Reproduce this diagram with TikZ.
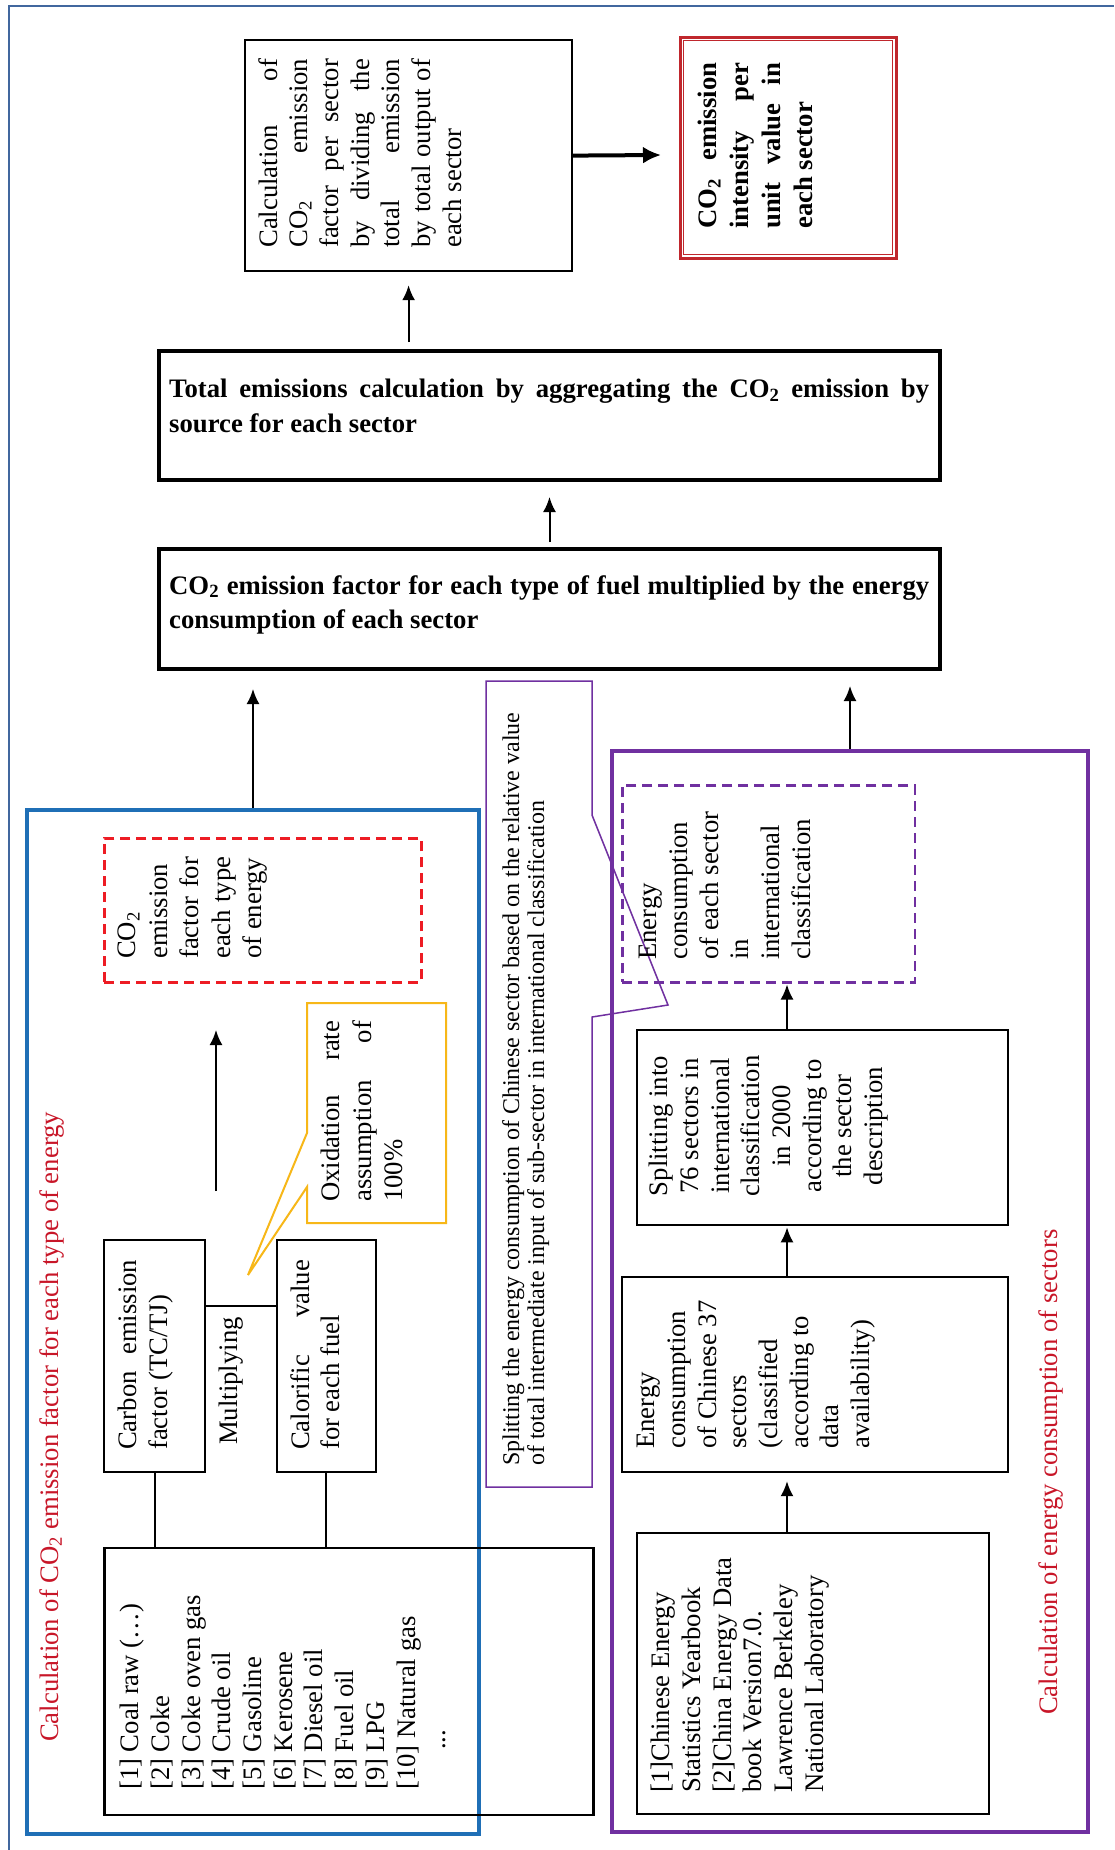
\documentclass[tikz,border=0pt]{standalone}
\usepackage{fontspec}
\setmainfont{Liberation Serif}
\usetikzlibrary{arrows.meta}
\definecolor{frameBlue}{RGB}{65,103,158}
\definecolor{boxBlue}{RGB}{31,111,182}
\definecolor{boxPurple}{RGB}{112,48,160}
\definecolor{titleRed}{RGB}{200,22,40}
\definecolor{dashRed}{RGB}{237,28,36}
\definecolor{darkRed}{RGB}{192,39,45}
\definecolor{calloutGold}{RGB}{247,183,24}
\tikzset{>={Latex[length=15pt,width=13pt]}}
\hyphenpenalty=10000
\exhyphenpenalty=10000
\tolerance=9999
\newcommand{\cotwo}{CO\textsubscript{2}}
\newcommand{\bracketno}[1]{[#1]}
\tikzset{
  txt/.style={font=\fontsize{26.7}{30.7}\selectfont, inner sep=0pt},
  vtxt/.style={txt, rotate=90, anchor=north west},
  bold/.style={font=\fontsize{26.7}{34.5}\selectfont\bfseries},
  box/.style={draw, line width=2.2pt, inner sep=0pt, anchor=north west},
  wh/.style 2 args={minimum width=#1pt, minimum height=#2pt},
  arr/.style={->, line width=2pt},
}

\begin{document}
\begin{tikzpicture}[x=1pt,y=-1pt]
\useasboundingbox (0,0) rectangle (1114,1850);
\fill[white] (0,0) rectangle (1114,1850);
\draw[frameBlue, line width=2.5pt] (9,1850) -- (9,6) -- (1114,6);% page frame

% top row
\node[box, wh={327}{231}] (calc) at (244,39) {};
\node[vtxt, text width=189pt, align=justify] (calct) at (258,248) {Calculation of\linebreak \cotwo{} emission\linebreak factor per sector\linebreak by dividing the\linebreak total emission\linebreak by total output of\linebreak each sector};
\node[box, draw=darkRed, line width=3pt, wh={216}{221}] (intens) at (678.5,35.7) {};
\draw[darkRed, line width=1.5pt] ([xshift=5pt,yshift=-5pt]intens.north west) rectangle ([xshift=-5pt,yshift=5pt]intens.south east);
\node[vtxt, font=\fontsize{26.7}{32}\selectfont\bfseries, text width=166pt, align=justify] (intenst) at (698,229) {\cotwo{} emission\linebreak intensity per\linebreak unit value in\linebreak each sector};
\coordinate (thickEnd) at (661,155);
\draw[->, line width=4pt, >={Latex[length=18pt,width=17pt]}] (calc.east) -- (thickEnd);

\node[box, line width=4pt, wh={781}{129}] (tot) at (157,349) {};
\node[txt, bold, text width=760pt, align=justify, anchor=north west] (tott) at (169,379) {Total emissions calculation by aggregating the \cotwo{} emission by\linebreak source for each sector};
\node[box, line width=4pt, wh={781}{120}] (fac) at (157,547) {};
\node[txt, bold, text width=760pt, align=justify, anchor=north west] (fact) at (169,575) {\cotwo{} emission factor for each type of fuel multiplied by the energy\linebreak consumption of each sector};
\draw[arr, shorten <=7pt, shorten >=13pt] (calc.south |- tot.north) -- (calc.south);
\draw[arr, shorten <=5pt, shorten >=15pt] (fac.north) -- (tot.south);

% left block
\node[box, draw=boxBlue, line width=4pt, wh={452}{1024}] (blue) at (25,808) {};
\node[txt, rotate=90, anchor=base west, text=titleRed] (bluet) at (58,1742) {Calculation of \cotwo{} emission factor for each type of energy};
\draw[arr, shorten >=18pt] (blue.north) -- (blue.north |- fac.south);

\node[box, draw=dashRed, line width=2.5pt, dash pattern=on 10pt off 6pt, wh={317}{144}] (efac) at (103,837) {};
\node[vtxt, font=\fontsize{26.7}{31.5}\selectfont, text width=102pt, align=justify] (efact) at (118,959) {\cotwo\linebreak emission\linebreak factor for\linebreak each type\linebreak of energy};
\coordinate (mulTop) at (216,1030);
\coordinate (mulBot) at (216,1191);
\draw[arr] (mulBot) -- (mulTop);

\draw[calloutGold, line width=2pt] (446,1003) -- (307,1003) -- (307,1133) -- (248,1275) -- (307,1187) -- (307,1223) -- (446,1223) -- cycle;% callout
\node[vtxt, font=\fontsize{26.7}{31.5}\selectfont, text width=181pt, align=justify] (oxid) at (321,1202) {Oxidation rate\linebreak assumption of\linebreak 100\%};

\node[box, wh={101}{232}] (carb) at (103,1239) {};
\node[vtxt, text width=190pt, align=justify] (carbt) at (118,1450) {Carbon emission\linebreak factor (TC/TJ)};
\node[box, wh={99.5}{232}] (calo) at (275.5,1239) {};
\node[vtxt, text width=190pt, align=justify] (calot) at (290,1450) {Calorific value\linebreak for each fuel};
\node[txt, rotate=90, anchor=base west] (mult) at (237.5,1445) {Multiplying};
\coordinate (mulLine) at (240,1305.5);
\draw[line width=2pt] (carb.east |- mulLine) -- (calo.west |- mulLine);

\node[box, line width=2.6pt, wh={489}{267}] (fuel) at (103,1546.7) {};
\draw[line width=2.2pt] (carb.south) -- (carb.south |- fuel.north);
\draw[line width=2.2pt] (calo.south) -- (calo.south |- fuel.north);
\node[vtxt, align=left] (fuelt) at (120,1790) {\bracketno{1} Coal raw (…)\\ \bracketno{2} Coke\\ \bracketno{3} Coke oven gas\\ \bracketno{4} Crude oil\\ \bracketno{5} Gasoline\\ \bracketno{6} Kerosene\\ \bracketno{7} Diesel oil\\ \bracketno{8} Fuel oil\\ \bracketno{9} LPG\\ \bracketno{10} Natural gas\\ \hspace*{40pt}...};

% splitting note
\draw[boxPurple, line width=1.5pt] (486,681) -- (592,681) -- (592,815) -- (668,1005) -- (592,1017) -- (592,1487) -- (486,1487) -- cycle;
\node[vtxt, font=\fontsize{24}{25}\selectfont, align=left] (splitnote) at (502,1466) {Splitting the energy consumption of Chinese sector based on the relative value\\ of total intermediate input of sub-sector in international classification};

% right block
\node[box, draw=boxPurple, line width=4pt, wh={476}{1081}] (purp) at (610,749) {};
\node[txt, rotate=90, anchor=base west, text=titleRed] (purpt) at (1057,1715) {Calculation of energy consumption of sectors};
\draw[arr, shorten >=15pt] (purp.north) -- (purp.north |- fac.south);

\node[box, draw=boxPurple, line width=2.5pt, dash pattern=on 10pt off 6pt, wh={292.5}{197}] (ecint) at (621,784) {};
\node[vtxt, align=left] (ecintt) at (639,960) {Energy\\ consumption\\ of each sector\\ in\\ international\\ classification};
\node[box, wh={371.5}{194.6}] (split) at (635.5,1029) {};
\node[txt, rotate=90, anchor=north, align=center] (splitt) at (649,1126) {Splitting into\\ 76 sectors in\\ international\\ classification\\ in 2000\\ according to\\ the sector\\ description};
\node[box, wh={386}{195.4}] (chn) at (621,1275.6) {};
\node[vtxt, align=left] (chnt) at (637,1449) {Energy\\ consumption\\ of Chinese 37\\ sectors\\ (classified\\ according to\\ data\\ availability)};
\node[box, wh={352.5}{281}] (src) at (635.5,1532) {};
\node[vtxt, align=left] (srct) at (651,1793) {\bracketno{1}Chinese Energy\\ Statistics Yearbook\\ \bracketno{2}China Energy Data\\ book Version7.0.\\ Lawrence Berkeley\\ National Laboratory};
\coordinate (pcol) at (787,0);
\draw[arr, shorten >=8pt] (src.north -| pcol) -- (chn.south -| pcol);
\draw[arr, shorten >=1.5pt] (chn.north -| pcol) -- (split.south -| pcol);
\draw[arr, shorten >=1pt] (split.north -| pcol) -- (ecint.south -| pcol);
\end{tikzpicture}
\end{document}
